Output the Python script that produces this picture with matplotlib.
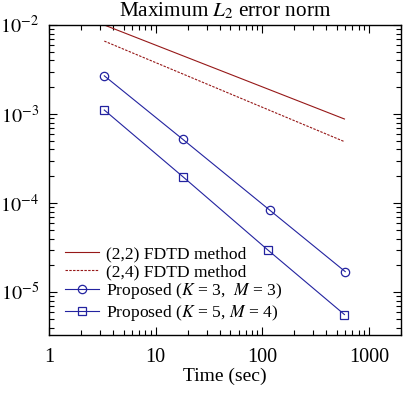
"""Maximum L2 error norm versus computation time (log-log)."""

import matplotlib

matplotlib.use("Agg")
import matplotlib.pyplot as plt
from matplotlib.ticker import LogLocator, FixedFormatter, NullFormatter

plt.rcParams["font.family"] = ["Liberation Serif", "DejaVu Serif"]
plt.rcParams["mathtext.fontset"] = "stix"

# (2,2) and (2,4) FDTD
time_fdtd = [3.3, 590]
err_fdtd22 = [1.0e-2, 8.8e-4]
err_fdtd24 = [6.6e-3, 4.9e-4]

# proposed schemes
time_k3 = [3.3, 18, 118, 600]
err_k3 = [2.69e-3, 5.2e-4, 8.3e-5, 1.7e-5]
time_k5 = [3.3, 18, 113, 590]
err_k5 = [1.11e-3, 1.98e-4, 2.97e-5, 5.6e-6]

labels = [
    "(2,2) FDTD method",
    "(2,4) FDTD method",
    r"Proposed ($K$ = 3,  $M$ = 3)",
    r"Proposed ($K$ = 5, $M$ = 4)",
]
xticks = [1, 10, 100, 1000]
xticklabels = ["1", "10", "100", "1000"]
yticks = [1e-5, 1e-4, 1e-3, 1e-2]
yticklabels = [r"$10^{-5}$", r"$10^{-4}$", r"$10^{-3}$", r"$10^{-2}$"]

RED = "#961818"
BLUE = "#2323a0"

fig = plt.figure(figsize=(4.03, 3.94), dpi=100)
ax = fig.add_axes([0.1216, 0.1497, 0.8734, 0.7868])

ax.plot(time_fdtd, err_fdtd22, color=RED, lw=0.8, label=labels[0])
ax.plot(time_fdtd, err_fdtd24, color=RED, lw=0.8, dashes=(2.2, 1.2), label=labels[1])
ax.plot(time_k3, err_k3, color=BLUE, lw=0.8, marker="o", ms=6, mfc="none",
        mew=0.9, label=labels[2])
ax.plot(time_k5, err_k5, color=BLUE, lw=0.8, marker="s", ms=6, mfc="none",
        mew=0.9, label=labels[3])

ax.set_xscale("log")
ax.set_yscale("log")
ax.set_xlim(1, 2000)
ax.set_ylim(3.3e-6, 1e-2)

ax.set_xticks(xticks)
ax.xaxis.set_major_formatter(FixedFormatter(xticklabels))
ax.set_yticks(yticks)
ax.yaxis.set_major_formatter(FixedFormatter(yticklabels))
ax.xaxis.set_minor_locator(LogLocator(base=10, subs=range(2, 10), numticks=20))
ax.yaxis.set_minor_locator(LogLocator(base=10, subs=range(2, 10), numticks=20))
ax.xaxis.set_minor_formatter(NullFormatter())
ax.yaxis.set_minor_formatter(NullFormatter())

ax.tick_params(which="both", direction="in", top=True, right=True, labelsize=14.5,
               width=0.8)
ax.tick_params(which="major", length=6)
ax.tick_params(axis="x", which="major", pad=9)
ax.tick_params(axis="y", which="major", pad=7)
ax.tick_params(which="minor", length=3.5)
for spine in ax.spines.values():
    spine.set_linewidth(1.0)

ax.set_title(r"Maximum $L_2$ error norm", fontsize=15.3, pad=6)
ax.set_xlabel("Time (sec)", fontsize=14, labelpad=1)

ax.legend(loc="lower left", bbox_to_anchor=(0.012, 0.0), frameon=False,
          fontsize=12.6, handlelength=1.9, handletextpad=0.4, labelspacing=0.08,
          borderaxespad=0.3)

fig.savefig("out.png", dpi=100)
